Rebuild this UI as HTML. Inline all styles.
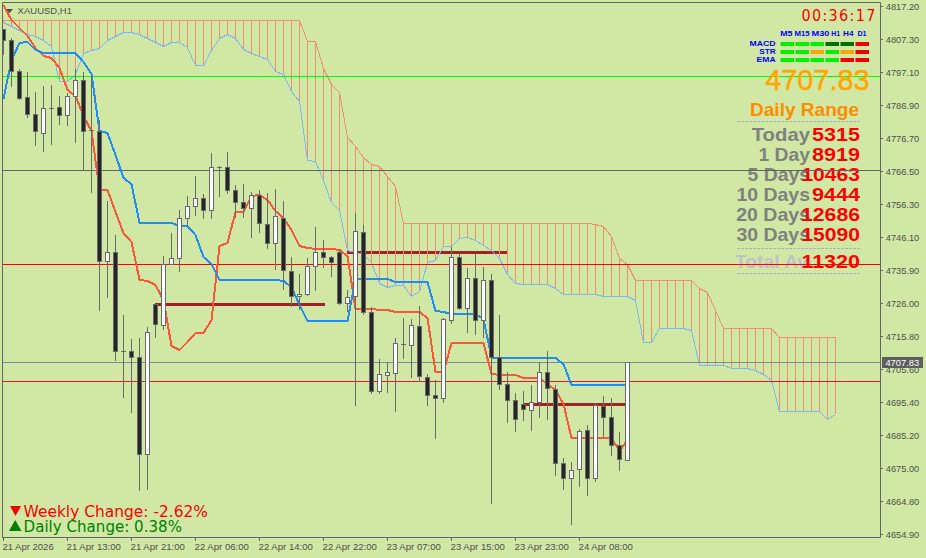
<!DOCTYPE html>
<html><head><meta charset="utf-8"><style>
html,body{margin:0;padding:0;background:#D1E8A4;}
body{width:926px;height:558px;overflow:hidden;position:relative;font-family:"Liberation Sans",Arial,sans-serif;}
svg{position:absolute;left:0;top:0;}
.ax{font-family:"Liberation Sans",Arial,sans-serif;font-size:9.95px;fill:#4E4E4E;}
.t{position:absolute;white-space:nowrap;line-height:1;}
</style></head><body>
<svg width="926" height="558" viewBox="0 0 926 558"><defs><clipPath id="pc"><rect x="3" y="3" width="877" height="534"/></clipPath></defs><rect x="0" y="0" width="926" height="558" fill="#D1E8A4"/><g clip-path="url(#pc)"><rect x="155" y="303" width="170" height="3" fill="#9E2228"/><rect x="347" y="251" width="161" height="3" fill="#9E2228"/><rect x="523" y="403" width="103" height="3" fill="#9E2228"/><path d="M3.5 20V23M11.5 20V27M19.5 20V31M27.5 20V35M35.5 20V37M43.5 20V41M51.5 20V46M59.5 20V81M67.5 20V82M75.5 20V74M83.5 20V54M91.5 20V50M99.5 20V49M107.5 20V40M115.5 20V37M123.5 20V33M131.5 20V32M139.5 20V35M147.5 20V39M155.5 20V42M163.5 20V46M171.5 20V42M179.5 20V43M187.5 20V48M195.5 20V66M203.5 20V66M211.5 20V51M219.5 20V39M227.5 20V35M235.5 20V39M243.5 20V50M251.5 20V54M259.5 20V56M267.5 20V60M275.5 20V71M283.5 20V74M291.5 20V91M299.5 20V102M307.5 42V160M315.5 42V162M323.5 68V180M331.5 84V202M339.5 93V211M347.5 138V250M355.5 146V252M363.5 158V255M371.5 164V262M379.5 167V283M387.5 177V288M395.5 187V285M403.5 224V285M411.5 224V296M419.5 224V291M427.5 224V263M435.5 224V260M443.5 224V246M451.5 224V246M459.5 224V238M467.5 224V237M475.5 224V241M483.5 224V245M491.5 224V250M499.5 224V258M507.5 224V274M515.5 224V284M523.5 224V285M531.5 224V285M539.5 224V285M547.5 224V285M555.5 224V288M563.5 224V294M571.5 224V294M579.5 224V294M587.5 224V294M595.5 225V294M603.5 226V297M611.5 237V297M619.5 259V297M627.5 265V297M635.5 281V301M643.5 281V342M651.5 281V342M659.5 281V328M667.5 281V328M675.5 281V328M683.5 281V328M691.5 281V331M699.5 288V366M707.5 292V366M715.5 311V366M723.5 328V366M731.5 328V368M739.5 328V368M747.5 328V368M755.5 328V371M763.5 328V374M771.5 328V381M779.5 338V411M787.5 338V411M795.5 338V411M803.5 338V411M811.5 338V411M819.5 338V411M827.5 338V419M835.5 338V414" stroke="#EE9070" stroke-width="1" fill="none"/><polyline points="3.5,20.5 11.5,20.5 19.5,20.5 27.5,20.5 35.5,20.5 43.5,20.5 51.5,20.5 59.5,20.5 67.5,20.5 75.5,20.5 83.5,20.5 91.5,20.5 99.5,20.5 107.5,20.5 115.5,20.5 123.5,20.5 131.5,20.5 139.5,20.5 147.5,20.5 155.5,20.5 163.5,20.5 171.5,20.5 179.5,20.5 187.5,20.5 195.5,20.5 203.5,20.5 211.5,20.5 219.5,20.5 227.5,20.5 235.5,20.5 243.5,20.5 251.5,20.5 259.5,20.5 267.5,20.5 275.5,20.5 283.5,20.5 291.5,20.5 299.5,20.5 307.5,41.5 315.5,41.5 323.5,68.5 331.5,84.5 339.5,92.5 347.5,137.5 355.5,146.5 363.5,157.5 371.5,164.5 379.5,166.5 387.5,176.5 395.5,186.5 403.5,223.5 411.5,223.5 419.5,223.5 427.5,223.5 435.5,223.5 443.5,223.5 451.5,223.5 459.5,223.5 467.5,223.5 475.5,223.5 483.5,223.5 491.5,223.5 499.5,223.5 507.5,223.5 515.5,223.5 523.5,223.5 531.5,223.5 539.5,223.5 547.5,223.5 555.5,223.5 563.5,223.5 571.5,223.5 579.5,223.5 587.5,223.5 595.5,224.5 603.5,226.5 611.5,236.5 619.5,258.5 627.5,264.5 635.5,280.5 643.5,280.5 651.5,280.5 659.5,280.5 667.5,280.5 675.5,280.5 683.5,280.5 691.5,280.5 699.5,288.5 707.5,292.5 715.5,310.5 723.5,328.5 731.5,328.5 739.5,328.5 747.5,328.5 755.5,328.5 763.5,328.5 771.5,328.5 779.5,337.5 787.5,337.5 795.5,337.5 803.5,337.5 811.5,337.5 819.5,337.5 827.5,337.5 835.5,337.5" stroke="#EE9070" stroke-width="1" fill="none" shape-rendering="crispEdges"/><polyline points="3.5,22.5 11.5,26.5 19.5,30.5 27.5,34.5 35.5,36.5 43.5,40.5 51.5,46.5 59.5,81.5 67.5,81.5 75.5,74.5 83.5,53.5 91.5,50.5 99.5,48.5 107.5,40.5 115.5,36.5 123.5,32.5 131.5,32.5 139.5,34.5 147.5,38.5 155.5,42.5 163.5,46.5 171.5,42.5 179.5,42.5 187.5,47.5 195.5,65.5 203.5,65.5 211.5,50.5 219.5,38.5 227.5,34.5 235.5,38.5 243.5,49.5 251.5,53.5 259.5,56.5 267.5,59.5 275.5,71.5 283.5,74.5 291.5,91.5 299.5,101.5 307.5,160.5 315.5,161.5 323.5,180.5 331.5,202.5 339.5,210.5 347.5,250.5 355.5,252.5 363.5,254.5 371.5,262.5 379.5,283.5 387.5,287.5 395.5,285.5 403.5,285.5 411.5,296.5 419.5,291.5 427.5,262.5 435.5,260.5 443.5,246.5 451.5,246.5 459.5,238.5 467.5,237.5 475.5,240.5 483.5,245.5 491.5,250.5 499.5,258.5 507.5,274.5 515.5,283.5 523.5,284.5 531.5,284.5 539.5,284.5 547.5,284.5 555.5,288.5 563.5,294.5 571.5,294.5 579.5,294.5 587.5,294.5 595.5,294.5 603.5,296.5 611.5,296.5 619.5,296.5 627.5,296.5 635.5,300.5 643.5,342.5 651.5,342.5 659.5,328.5 667.5,328.5 675.5,328.5 683.5,328.5 691.5,330.5 699.5,365.5 707.5,365.5 715.5,365.5 723.5,365.5 731.5,368.5 739.5,368.5 747.5,368.5 755.5,370.5 763.5,374.5 771.5,380.5 779.5,411.5 787.5,411.5 795.5,411.5 803.5,411.5 811.5,411.5 819.5,411.5 827.5,419.5 835.5,414.5" stroke="#7CB8F4" stroke-width="1" fill="none" shape-rendering="crispEdges"/><rect x="3" y="76" width="877" height="1" fill="#00FF00"/><rect x="3" y="170" width="877" height="1" fill="#646464"/><rect x="3" y="264" width="877" height="1" fill="#FF0000"/><rect x="3" y="362" width="877" height="1" fill="#7A8A9E"/><rect x="3" y="381" width="877" height="1" fill="#DC143C"/><polyline points="3.5,5 11.5,20 19.5,28 27.5,36 35.5,48 43.5,56 51.5,58 59.5,68 67.5,90 75.5,96 83.5,116 91.5,131 99.5,190 107.5,190 115.5,212 123.5,233 131.5,242 139.5,280 147.5,281 155.5,285 163.5,300 171.5,346 179.5,350 187.5,342 195.5,333 203.5,333 211.5,320 219.5,246 227.5,243 235.5,212 243.5,212 251.5,196 259.5,195 267.5,200 275.5,211 283.5,218 291.5,230 299.5,246 307.5,248 315.5,249 323.5,249 331.5,249 339.5,250 347.5,256 355.5,309 363.5,309 371.5,309 379.5,310 387.5,310 395.5,312 403.5,312 411.5,312 419.5,312 427.5,318 435.5,372 443.5,372 451.5,343 459.5,343 467.5,343 475.5,343 483.5,343 491.5,374 499.5,375 507.5,375 515.5,375 523.5,378 531.5,378 539.5,378 547.5,384 555.5,390 563.5,404 571.5,438 579.5,438 587.5,438 595.5,438 603.5,438 611.5,438 619.5,451 627.5,440" stroke="#FF5537" stroke-width="2" fill="none" stroke-linejoin="round" shape-rendering="crispEdges"/><polyline points="3.5,99 11.5,60 19.5,43 27.5,42 35.5,50 43.5,53 51.5,53 59.5,53 67.5,53 75.5,53 83.5,62 91.5,74 99.5,131 107.5,133 115.5,155 123.5,178 131.5,184 139.5,223 147.5,223 155.5,223 163.5,223 171.5,223 179.5,226 187.5,226 195.5,235 203.5,257 211.5,264 219.5,280 227.5,280 235.5,280 243.5,280 251.5,280 259.5,280 267.5,280 275.5,280 283.5,281 291.5,287 299.5,305 307.5,321 315.5,321 323.5,321 331.5,321 339.5,321 347.5,321 355.5,279 363.5,279 371.5,279 379.5,279 387.5,279 395.5,282 403.5,282 411.5,282 419.5,282 427.5,282 435.5,311 443.5,312 451.5,314 459.5,314 467.5,314 475.5,314 483.5,319 491.5,358 499.5,358 507.5,358 515.5,358 523.5,358 531.5,358 539.5,358 547.5,358 555.5,358 563.5,364 571.5,385 579.5,385 587.5,385 595.5,385 603.5,385 611.5,385 619.5,385 627.5,385" stroke="#1E8CF5" stroke-width="2" fill="none" stroke-linejoin="round" shape-rendering="crispEdges"/><path d="M3.5 29V55M11.5 38V87M19.5 69V100M27.5 72V118M35.5 92V146M43.5 86V152M51.5 85V145M59.5 96V125M67.5 93V126M75.5 69V143M83.5 72V171M91.5 75V193M99.5 120V311M107.5 201V298M115.5 235V361M123.5 315V398M131.5 339V413M139.5 338V491M147.5 327V490M155.5 304V338M163.5 256V330M171.5 233V265M179.5 210V272M187.5 196V226M195.5 176V216M203.5 194V219M211.5 153V219M219.5 166V197M227.5 152V194M235.5 185V218M243.5 184V218M251.5 192V238M259.5 190V233M267.5 193V249M275.5 189V270M283.5 201V290M291.5 257V307M299.5 274V310M307.5 258V296M315.5 227V291M323.5 240V268M331.5 256V277M339.5 250V305M347.5 290V312M355.5 213V406M363.5 225V315M371.5 307V394M379.5 359V394M387.5 362V393M395.5 338V412M403.5 318V359M411.5 319V378M419.5 306V382M427.5 374V406M435.5 380V439M443.5 318V403M451.5 247V324M459.5 253V310M467.5 268V333M475.5 254V335M483.5 267V338M491.5 274V504M499.5 315V390M507.5 372V423M515.5 393V432M523.5 391V421M531.5 385V431M539.5 362V418M547.5 351V420M555.5 385V476M563.5 458V490M571.5 462V525M579.5 429V487M587.5 425V496M595.5 403V482M603.5 396V437M611.5 398V456M619.5 432V471M627.5 362V461" stroke="#6A6A6A" stroke-width="1" fill="none"/><rect x="1.5" y="29.5" width="4" height="11" fill="#242424" stroke="#6A6A6A" stroke-width="1"/><rect x="9.5" y="40.5" width="4" height="31" fill="#242424" stroke="#6A6A6A" stroke-width="1"/><rect x="17.5" y="71.5" width="4" height="27" fill="#242424" stroke="#6A6A6A" stroke-width="1"/><rect x="25.5" y="97.5" width="4" height="17" fill="#242424" stroke="#6A6A6A" stroke-width="1"/><rect x="33.5" y="114.5" width="4" height="17" fill="#242424" stroke="#6A6A6A" stroke-width="1"/><rect x="41.5" y="108.5" width="4" height="25" fill="#FFFFFF" stroke="#6A6A6A" stroke-width="1"/><rect x="49" y="108" width="5" height="1" fill="#6A6A6A"/><rect x="57.5" y="107.5" width="4" height="8" fill="#242424" stroke="#6A6A6A" stroke-width="1"/><rect x="65.5" y="96.5" width="4" height="19" fill="#FFFFFF" stroke="#6A6A6A" stroke-width="1"/><rect x="73.5" y="80.5" width="4" height="16" fill="#FFFFFF" stroke="#6A6A6A" stroke-width="1"/><rect x="81.5" y="80.5" width="4" height="51" fill="#242424" stroke="#6A6A6A" stroke-width="1"/><rect x="89" y="130" width="5" height="1" fill="#6A6A6A"/><rect x="97.5" y="131.5" width="4" height="130" fill="#242424" stroke="#6A6A6A" stroke-width="1"/><rect x="105.5" y="252.5" width="4" height="9" fill="#FFFFFF" stroke="#6A6A6A" stroke-width="1"/><rect x="113.5" y="252.5" width="4" height="99" fill="#242424" stroke="#6A6A6A" stroke-width="1"/><rect x="121" y="351" width="5" height="1" fill="#6A6A6A"/><rect x="129.5" y="351.5" width="4" height="6" fill="#242424" stroke="#6A6A6A" stroke-width="1"/><rect x="137.5" y="357.5" width="4" height="97" fill="#242424" stroke="#6A6A6A" stroke-width="1"/><rect x="145.5" y="332.5" width="4" height="122" fill="#FFFFFF" stroke="#6A6A6A" stroke-width="1"/><rect x="153.5" y="304.5" width="4" height="20" fill="#242424" stroke="#6A6A6A" stroke-width="1"/><rect x="161.5" y="264.5" width="4" height="61" fill="#FFFFFF" stroke="#6A6A6A" stroke-width="1"/><rect x="169.5" y="258.5" width="4" height="6" fill="#FFFFFF" stroke="#6A6A6A" stroke-width="1"/><rect x="177.5" y="218.5" width="4" height="40" fill="#FFFFFF" stroke="#6A6A6A" stroke-width="1"/><rect x="185.5" y="206.5" width="4" height="12" fill="#FFFFFF" stroke="#6A6A6A" stroke-width="1"/><rect x="193.5" y="198.5" width="4" height="8" fill="#FFFFFF" stroke="#6A6A6A" stroke-width="1"/><rect x="201.5" y="198.5" width="4" height="12" fill="#242424" stroke="#6A6A6A" stroke-width="1"/><rect x="209.5" y="167.5" width="4" height="43" fill="#FFFFFF" stroke="#6A6A6A" stroke-width="1"/><rect x="217" y="167" width="5" height="1" fill="#6A6A6A"/><rect x="225.5" y="167.5" width="4" height="23" fill="#242424" stroke="#6A6A6A" stroke-width="1"/><rect x="233.5" y="190.5" width="4" height="12" fill="#242424" stroke="#6A6A6A" stroke-width="1"/><rect x="241.5" y="202.5" width="4" height="6" fill="#242424" stroke="#6A6A6A" stroke-width="1"/><rect x="249.5" y="195.5" width="4" height="13" fill="#FFFFFF" stroke="#6A6A6A" stroke-width="1"/><rect x="257.5" y="195.5" width="4" height="28" fill="#242424" stroke="#6A6A6A" stroke-width="1"/><rect x="265.5" y="224.5" width="4" height="19" fill="#242424" stroke="#6A6A6A" stroke-width="1"/><rect x="273.5" y="216.5" width="4" height="27" fill="#FFFFFF" stroke="#6A6A6A" stroke-width="1"/><rect x="281.5" y="218.5" width="4" height="52" fill="#242424" stroke="#6A6A6A" stroke-width="1"/><rect x="289.5" y="271.5" width="4" height="25" fill="#242424" stroke="#6A6A6A" stroke-width="1"/><rect x="297.5" y="294.5" width="4" height="2" fill="#FFFFFF" stroke="#6A6A6A" stroke-width="1"/><rect x="305.5" y="266.5" width="4" height="28" fill="#FFFFFF" stroke="#6A6A6A" stroke-width="1"/><rect x="313.5" y="252.5" width="4" height="14" fill="#FFFFFF" stroke="#6A6A6A" stroke-width="1"/><rect x="321.5" y="252.5" width="4" height="5" fill="#242424" stroke="#6A6A6A" stroke-width="1"/><rect x="329.5" y="257.5" width="4" height="5" fill="#242424" stroke="#6A6A6A" stroke-width="1"/><rect x="337.5" y="252.5" width="4" height="51" fill="#242424" stroke="#6A6A6A" stroke-width="1"/><rect x="345.5" y="297.5" width="4" height="6" fill="#FFFFFF" stroke="#6A6A6A" stroke-width="1"/><rect x="353.5" y="231.5" width="4" height="65" fill="#FFFFFF" stroke="#6A6A6A" stroke-width="1"/><rect x="361.5" y="232.5" width="4" height="80" fill="#242424" stroke="#6A6A6A" stroke-width="1"/><rect x="369.5" y="312.5" width="4" height="79" fill="#242424" stroke="#6A6A6A" stroke-width="1"/><rect x="377.5" y="374.5" width="4" height="17" fill="#FFFFFF" stroke="#6A6A6A" stroke-width="1"/><rect x="385.5" y="372.5" width="4" height="3" fill="#FFFFFF" stroke="#6A6A6A" stroke-width="1"/><rect x="393.5" y="343.5" width="4" height="30" fill="#FFFFFF" stroke="#6A6A6A" stroke-width="1"/><rect x="401" y="344" width="5" height="1" fill="#6A6A6A"/><rect x="409.5" y="325.5" width="4" height="20" fill="#FFFFFF" stroke="#6A6A6A" stroke-width="1"/><rect x="417.5" y="326.5" width="4" height="50" fill="#242424" stroke="#6A6A6A" stroke-width="1"/><rect x="425.5" y="377.5" width="4" height="18" fill="#242424" stroke="#6A6A6A" stroke-width="1"/><rect x="433.5" y="395.5" width="4" height="3" fill="#242424" stroke="#6A6A6A" stroke-width="1"/><rect x="441.5" y="319.5" width="4" height="79" fill="#FFFFFF" stroke="#6A6A6A" stroke-width="1"/><rect x="449.5" y="257.5" width="4" height="63" fill="#FFFFFF" stroke="#6A6A6A" stroke-width="1"/><rect x="457.5" y="257.5" width="4" height="51" fill="#242424" stroke="#6A6A6A" stroke-width="1"/><rect x="465.5" y="278.5" width="4" height="30" fill="#FFFFFF" stroke="#6A6A6A" stroke-width="1"/><rect x="473.5" y="278.5" width="4" height="42" fill="#242424" stroke="#6A6A6A" stroke-width="1"/><rect x="481.5" y="280.5" width="4" height="40" fill="#FFFFFF" stroke="#6A6A6A" stroke-width="1"/><rect x="489.5" y="280.5" width="4" height="77" fill="#242424" stroke="#6A6A6A" stroke-width="1"/><rect x="497.5" y="357.5" width="4" height="27" fill="#242424" stroke="#6A6A6A" stroke-width="1"/><rect x="505.5" y="384.5" width="4" height="16" fill="#242424" stroke="#6A6A6A" stroke-width="1"/><rect x="513.5" y="400.5" width="4" height="19" fill="#242424" stroke="#6A6A6A" stroke-width="1"/><rect x="521.5" y="404.5" width="4" height="5" fill="#242424" stroke="#6A6A6A" stroke-width="1"/><rect x="529.5" y="402.5" width="4" height="8" fill="#FFFFFF" stroke="#6A6A6A" stroke-width="1"/><rect x="537.5" y="372.5" width="4" height="30" fill="#FFFFFF" stroke="#6A6A6A" stroke-width="1"/><rect x="545.5" y="372.5" width="4" height="16" fill="#242424" stroke="#6A6A6A" stroke-width="1"/><rect x="553.5" y="389.5" width="4" height="74" fill="#242424" stroke="#6A6A6A" stroke-width="1"/><rect x="561.5" y="463.5" width="4" height="15" fill="#242424" stroke="#6A6A6A" stroke-width="1"/><rect x="569.5" y="470.5" width="4" height="8" fill="#FFFFFF" stroke="#6A6A6A" stroke-width="1"/><rect x="577.5" y="431.5" width="4" height="38" fill="#FFFFFF" stroke="#6A6A6A" stroke-width="1"/><rect x="585.5" y="430.5" width="4" height="48" fill="#242424" stroke="#6A6A6A" stroke-width="1"/><rect x="593.5" y="405.5" width="4" height="73" fill="#FFFFFF" stroke="#6A6A6A" stroke-width="1"/><rect x="601.5" y="406.5" width="4" height="11" fill="#242424" stroke="#6A6A6A" stroke-width="1"/><rect x="609.5" y="417.5" width="4" height="28" fill="#242424" stroke="#6A6A6A" stroke-width="1"/><rect x="617.5" y="445.5" width="4" height="14" fill="#242424" stroke="#6A6A6A" stroke-width="1"/><rect x="625.5" y="362.5" width="4" height="98" fill="#FFFFFF" stroke="#6A6A6A" stroke-width="1"/></g><path d="M2.5 537V2.5H880.5V537.5H2" stroke="#646466" stroke-width="1" fill="none"/><text x="885.8" y="10" class="ax" textLength="33.4" lengthAdjust="spacingAndGlyphs">4817.20</text><text x="885.8" y="43" class="ax" textLength="33.4" lengthAdjust="spacingAndGlyphs">4807.30</text><text x="885.8" y="76" class="ax" textLength="33.4" lengthAdjust="spacingAndGlyphs">4797.10</text><text x="885.8" y="109" class="ax" textLength="33.4" lengthAdjust="spacingAndGlyphs">4786.90</text><text x="885.8" y="142" class="ax" textLength="33.4" lengthAdjust="spacingAndGlyphs">4776.70</text><text x="885.8" y="175" class="ax" textLength="33.4" lengthAdjust="spacingAndGlyphs">4766.50</text><text x="885.8" y="208" class="ax" textLength="33.4" lengthAdjust="spacingAndGlyphs">4756.30</text><text x="885.8" y="241" class="ax" textLength="33.4" lengthAdjust="spacingAndGlyphs">4746.10</text><text x="885.8" y="274" class="ax" textLength="33.4" lengthAdjust="spacingAndGlyphs">4735.90</text><text x="885.8" y="307" class="ax" textLength="33.4" lengthAdjust="spacingAndGlyphs">4726.00</text><text x="885.8" y="340" class="ax" textLength="33.4" lengthAdjust="spacingAndGlyphs">4715.80</text><text x="885.8" y="373" class="ax" textLength="33.4" lengthAdjust="spacingAndGlyphs">4705.60</text><text x="885.8" y="406" class="ax" textLength="33.4" lengthAdjust="spacingAndGlyphs">4695.40</text><text x="885.8" y="439" class="ax" textLength="33.4" lengthAdjust="spacingAndGlyphs">4685.20</text><text x="885.8" y="472" class="ax" textLength="33.4" lengthAdjust="spacingAndGlyphs">4675.00</text><text x="885.8" y="505" class="ax" textLength="33.4" lengthAdjust="spacingAndGlyphs">4664.80</text><text x="885.8" y="538" class="ax" textLength="33.4" lengthAdjust="spacingAndGlyphs">4654.90</text><path d="M881 6.5H883M881 39.5H883M881 72.5H883M881 105.5H883M881 138.5H883M881 171.5H883M881 204.5H883M881 237.5H883M881 270.5H883M881 303.5H883M881 336.5H883M881 369.5H883M881 402.5H883M881 435.5H883M881 468.5H883M881 501.5H883M881 534.5H883" stroke="#646466" stroke-width="1"/><text x="2.4" y="550" class="ax" textLength="51.3" lengthAdjust="spacingAndGlyphs">21 Apr 2026</text><text x="66.6" y="550" class="ax" textLength="54.3" lengthAdjust="spacingAndGlyphs">21 Apr 13:00</text><text x="130.6" y="550" class="ax" textLength="54.3" lengthAdjust="spacingAndGlyphs">21 Apr 21:00</text><text x="194.6" y="550" class="ax" textLength="54.3" lengthAdjust="spacingAndGlyphs">22 Apr 06:00</text><text x="258.6" y="550" class="ax" textLength="54.3" lengthAdjust="spacingAndGlyphs">22 Apr 14:00</text><text x="322.6" y="550" class="ax" textLength="54.3" lengthAdjust="spacingAndGlyphs">22 Apr 22:00</text><text x="386.6" y="550" class="ax" textLength="54.3" lengthAdjust="spacingAndGlyphs">23 Apr 07:00</text><text x="450.6" y="550" class="ax" textLength="54.3" lengthAdjust="spacingAndGlyphs">23 Apr 15:00</text><text x="514.6" y="550" class="ax" textLength="54.3" lengthAdjust="spacingAndGlyphs">23 Apr 23:00</text><text x="578.6" y="550" class="ax" textLength="54.3" lengthAdjust="spacingAndGlyphs">24 Apr 08:00</text><path d="M3.5 538V541M67.5 538V541M131.5 538V541M195.5 538V541M259.5 538V541M323.5 538V541M387.5 538V541M451.5 538V541M515.5 538V541M579.5 538V541" stroke="#646466" stroke-width="1"/><rect x="882" y="357" width="41" height="11" fill="#5E5E5E"/><text x="885.4" y="366" class="ax" style="fill:#fff" textLength="33.8" lengthAdjust="spacingAndGlyphs">4707.83</text><path d="M6 9H13L9.5 13Z" fill="#4A4A4A"/><text x="17.6" y="14" class="ax" textLength="54.4" lengthAdjust="spacingAndGlyphs">XAUUSD,H1</text></svg>
<svg style="position:absolute;left:0;top:0" width="926" height="558">
<text x="801.4" y="21.1" textLength="74" lengthAdjust="spacing" style="font:16px 'DejaVu Sans Condensed','DejaVu Sans',sans-serif;font-stretch:condensed;fill:#FF0000">00:36:17</text>
<g style="font:bold 8px 'Liberation Sans',sans-serif;fill:#0000FF">
<text x="780.2" y="36" textLength="12.3" lengthAdjust="spacingAndGlyphs">M5</text><text x="794.5" y="36" textLength="15.2" lengthAdjust="spacingAndGlyphs">M15</text><text x="811.5" y="36" textLength="18" lengthAdjust="spacingAndGlyphs">M30</text><text x="831.2" y="36" textLength="8.8" lengthAdjust="spacingAndGlyphs">H1</text><text x="843.1" y="36" textLength="10.4" lengthAdjust="spacingAndGlyphs">H4</text><text x="857.4" y="36" textLength="9.2" lengthAdjust="spacingAndGlyphs">D1</text>
<text x="749.6" y="46" textLength="26" lengthAdjust="spacingAndGlyphs">MACD</text><text x="759.3" y="54" textLength="16.3" lengthAdjust="spacingAndGlyphs">STR</text><text x="756.6" y="62" textLength="19" lengthAdjust="spacingAndGlyphs">EMA</text>
</g>
<g>
<rect x="780.5" y="42" width="13.5" height="4" fill="#00F000"/><rect x="795.5" y="42" width="13.5" height="4" fill="#00F000"/><rect x="810.5" y="42" width="13.5" height="4" fill="#00F000"/><rect x="825.5" y="42" width="13.5" height="4" fill="#007000"/><rect x="840.5" y="42" width="13.5" height="4" fill="#007000"/><rect x="855.5" y="42" width="13.5" height="4" fill="#F00000"/>
<rect x="780.5" y="50" width="13.5" height="4" fill="#00F000"/><rect x="795.5" y="50" width="13.5" height="4" fill="#00F000"/><rect x="810.5" y="50" width="13.5" height="4" fill="#FFA500"/><rect x="825.5" y="50" width="13.5" height="4" fill="#00F000"/><rect x="840.5" y="50" width="13.5" height="4" fill="#FFA500"/><rect x="855.5" y="50" width="13.5" height="4" fill="#F00000"/>
<rect x="780.5" y="58" width="13.5" height="4" fill="#00F000"/><rect x="795.5" y="58" width="13.5" height="4" fill="#00F000"/><rect x="810.5" y="58" width="13.5" height="4" fill="#00F000"/><rect x="825.5" y="58" width="13.5" height="4" fill="#00F000"/><rect x="840.5" y="58" width="13.5" height="4" fill="#F00000"/><rect x="855.5" y="58" width="13.5" height="4" fill="#F00000"/>
</g>
<text x="765.2" y="89.9" textLength="104.4" lengthAdjust="spacingAndGlyphs" style="font:29.6px 'Liberation Sans',sans-serif;fill:#FFA500;stroke:#FFA500;stroke-width:0.45px">4707.83</text>
<text x="750" y="115.5" textLength="109" lengthAdjust="spacingAndGlyphs" style="font:bold 18.4px 'Liberation Sans',sans-serif;fill:#FF8C00">Daily Range</text>
<path d="M737 121.5H860M737 248.5H860M737 273.5H860" stroke="#AFAFBD" stroke-width="1" stroke-dasharray="3 1"/>
<g style="font:bold 19px 'Liberation Sans',sans-serif" text-anchor="end">
<g fill="#808080">
<text x="810" y="140.6" textLength="58.3" lengthAdjust="spacingAndGlyphs">Today</text><text x="810" y="160.6" textLength="51.6" lengthAdjust="spacingAndGlyphs">1 Day</text><text x="810" y="180.6" textLength="62.5" lengthAdjust="spacingAndGlyphs">5 Days</text><text x="810" y="200.6" textLength="73.5" lengthAdjust="spacingAndGlyphs">10 Days</text><text x="810" y="220.6" textLength="73.8" lengthAdjust="spacingAndGlyphs">20 Days</text><text x="810" y="240.6" textLength="73.5" lengthAdjust="spacingAndGlyphs">30 Days</text>
</g>
<text x="735" y="268" fill="#C0C0C8" text-anchor="start" textLength="73" lengthAdjust="spacingAndGlyphs">Total Av</text>
<g fill="#FF0000">
<text x="860" y="140.6" textLength="48" lengthAdjust="spacingAndGlyphs">5315</text><text x="860" y="160.6" textLength="48" lengthAdjust="spacingAndGlyphs">8919</text><text x="860" y="180.6" textLength="58.6" lengthAdjust="spacingAndGlyphs">10463</text><text x="860" y="200.6" textLength="48" lengthAdjust="spacingAndGlyphs">9444</text><text x="860" y="220.6" textLength="59" lengthAdjust="spacingAndGlyphs">12686</text><text x="860" y="240.6" textLength="58.6" lengthAdjust="spacingAndGlyphs">15090</text><text x="860" y="268" textLength="58.6" lengthAdjust="spacingAndGlyphs">11320</text>
</g>
</g>
<rect x="725" y="170" width="155" height="1" fill="#646464"/><rect x="725" y="264" width="155" height="1" fill="#FF0000"/>
<path d="M10 506H21L15.5 516Z" fill="#FF0000"/><path d="M9 531H21.5L15.2 520Z" fill="#008000"/>
<text x="23.6" y="516.7" textLength="184.4" lengthAdjust="spacingAndGlyphs" style="font:15.2px 'DejaVu Sans',sans-serif;fill:#FF0000">Weekly Change: -2.62%</text>
<text x="23.6" y="531.5" textLength="158.4" lengthAdjust="spacingAndGlyphs" style="font:15.2px 'DejaVu Sans',sans-serif;fill:#008000">Daily Change: 0.38%</text>
</svg>

</body></html>
